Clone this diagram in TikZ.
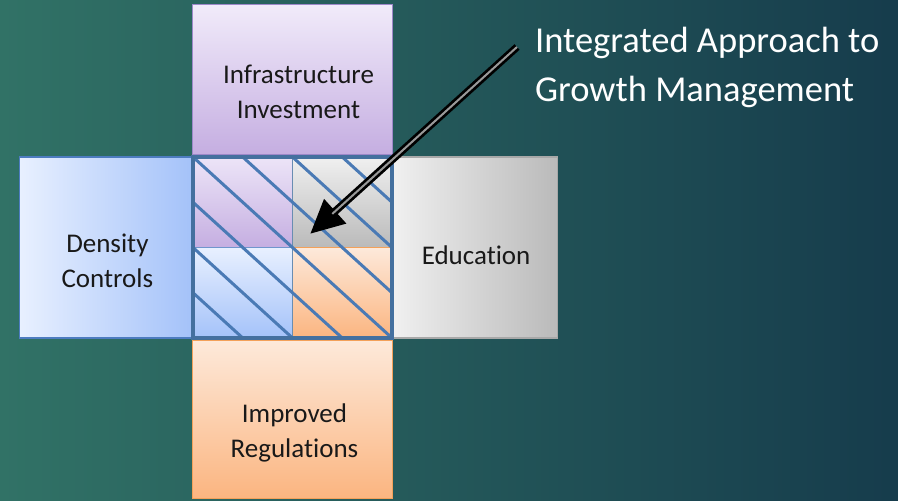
\documentclass[tikz,border=0pt]{standalone}
\usepackage{fontspec}
\setmainfont{Carlito}[Ligatures=NoCommon]
\usepackage{xcolor}
\usepackage{tikz}
\usetikzlibrary{positioning}
\usetikzlibrary{calc}
\usetikzlibrary{arrows.meta}

\definecolor{bgleft}{HTML}{317266}
\definecolor{bgright}{HTML}{163C4C}
\definecolor{infratop}{HTML}{F1EBFA}
\definecolor{infrabot}{HTML}{C5AEE1}
\definecolor{infraline}{HTML}{9D88C9}
\definecolor{densleft}{HTML}{E8F0FF}
\definecolor{densright}{HTML}{A4C2F9}
\definecolor{densline}{HTML}{4D7CC0}
\definecolor{educleft}{HTML}{F0F0F0}
\definecolor{educright}{HTML}{BABABA}
\definecolor{educline}{HTML}{A8A8A8}
\definecolor{regstop}{HTML}{FDE9DA}
\definecolor{regsbot}{HTML}{FBB580}
\definecolor{regsline}{HTML}{F3A15A}
\definecolor{hatch}{HTML}{4A7AB5}
\definecolor{hubline}{HTML}{44709F}

\begin{document}
\begin{tikzpicture}[
          x=1pt, y=-1pt,
          node distance=0pt and 0pt,
          box/.style={draw,line width=1.2pt,minimum height=181pt,inner sep=0pt},
          boxtext/.style={font=\fontsize{27}{35}\selectfont,align=center,text=black!90},
          hub/.style={minimum width=199pt,minimum height=181pt,inner sep=0pt,outer sep=0pt},
          hatchline/.style={hatch,line width=3pt,line cap=round},
          title/.style={font=\fontsize{36.5}{49}\selectfont,text=white,align=left,inner sep=0pt},
          pointer/.style={line width=7.5pt,-{Triangle[length=34pt,width=31pt]}},
          pointergap/.style={line width=2pt,white,opacity=0.6,shorten >=30pt}
          ]

          \useasboundingbox (0,0) rectangle (898,501);
          \shade[left color=bgleft,right color=bgright] (0,0) rectangle (898,501);

          % the four areas round the shared middle
          \node[hub] (hub) at (292.5,247.5) {};
          \node[box,draw=infraline,top color=infratop,bottom color=infrabot,
                minimum width=200pt,minimum height=150pt,above=2pt of hub] (infra) {};
          \node[box,draw=densline,left color=densleft,right color=densright,
                minimum width=173pt,left=of hub] (dens) {};
          \node[box,draw=educline,left color=educleft,right color=educright,
                minimum width=165pt,right=of hub] (educ) {};
          \node[box,draw=regsline,top color=regstop,bottom color=regsbot,
                minimum width=200pt,minimum height=158pt,below=2pt of hub] (regs) {};

          % overlap cells
          \shade[top color=infratop!90!infrabot,bottom color=infrabot] (hub.north west) rectangle (hub.center);
          \shade[top color=educleft,bottom color=educright] (hub.north) rectangle (hub.east);
          \shade[top color=densleft,bottom color=densright] (hub.west) rectangle (hub.south);
          \shade[top color=regstop,bottom color=regsbot] (hub.center) rectangle (hub.south east);
          \draw[hubline!80,line width=1.5pt] (hub.north) -- (hub.south);
          \draw[densline!80,line width=1.5pt] (hub.west) -- (hub.center);
          \draw[regsline,line width=1.5pt] (hub.center) -- (hub.east);

          \foreach \k in {0,1,2,3}
            \draw[hatchline] ($(hub.north west)!\k/4!(hub.north east)$) -- ($(hub.south east)!\k/4!(hub.north east)$);
          \foreach \k in {1,2,3}
            \draw[hatchline] ($(hub.north west)!\k/4!(hub.south west)$) -- ($(hub.south east)!\k/4!(hub.south west)$);
          \draw[hubline,line width=3.2pt] (hub.north west) rectangle (hub.south east);

          \node[boxtext] (infra-text) at ([xshift=6pt,yshift=-12pt]infra.center) {Infrastructure\\Investment};
          \node[boxtext] (dens-text) at ([xshift=1.5pt,yshift=-13pt]dens.center) {Density\\Controls};
          \node[boxtext] (educ-text) at ([xshift=1pt,yshift=-8pt]educ.center) {Education};
          \node[boxtext] (regs-text) at ([xshift=2pt,yshift=-13pt]regs.center) {Improved\\Regulations};

          \node[title,anchor=north west] (title) at (535,27) {Integrated Approach to\\Growth Management};

          \coordinate (arrowtail) at (517,47);
          \coordinate (arrowtip) at (310,234);
          \draw[pointer] (arrowtail) -- (arrowtip);
          \draw[pointergap] (arrowtail) -- (arrowtip);
        \end{tikzpicture}
\end{document}
